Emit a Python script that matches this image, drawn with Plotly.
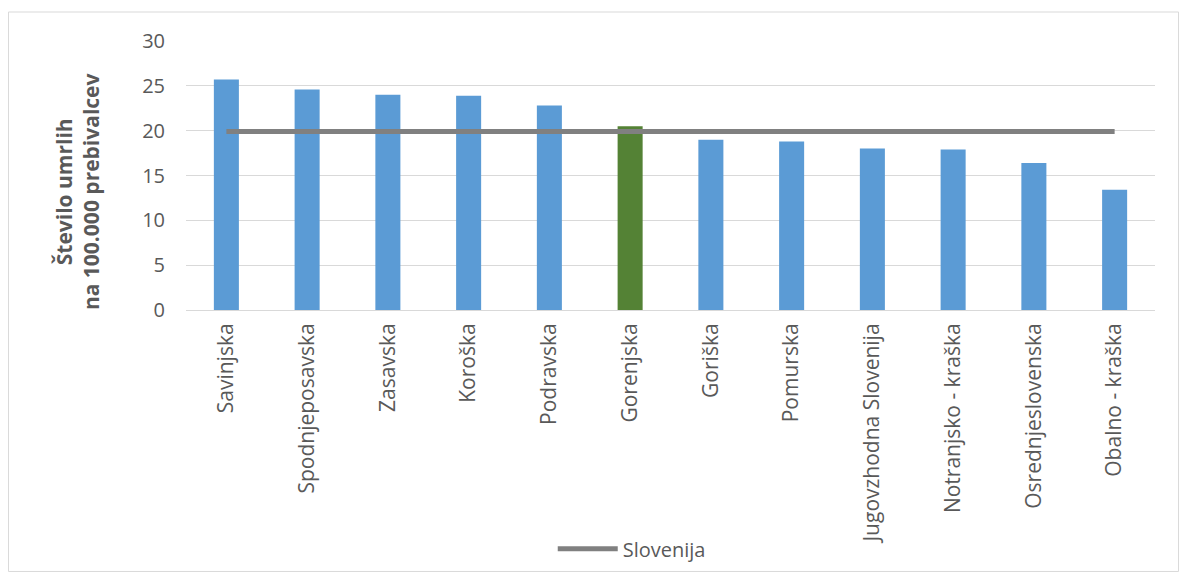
import plotly.graph_objects as go

categories = ["Savinjska", "Spodnjeposavska", "Zasavska", "Koroška", "Podravska",
              "Gorenjska", "Goriška", "Pomurska", "Jugovzhodna Slovenija",
              "Notranjsko - kraška", "Osrednjeslovenska", "Obalno - kraška"]
values = [25.7, 24.6, 24.0, 23.9, 22.8, 20.5, 19.0, 18.8, 18.0, 17.9, 16.4, 13.4]
slovenija = [19.9] * len(categories)
highlight = "Gorenjska"

bar_colors = ["#548235" if c == highlight else "#5B9BD5" for c in categories]
FONT = "Open Sans"
GRAY = "#595959"

fig = go.Figure()
fig.add_trace(go.Bar(x=categories, y=values, marker=dict(color=bar_colors, line=dict(width=0)),
                     showlegend=False))
fig.add_trace(go.Scatter(x=categories, y=slovenija, mode="lines", name="Slovenija",
                         line=dict(color="#808080", width=5)))

fig.update_layout(
    width=1171, height=564,
    margin=dict(l=178, r=24, t=33, b=262, autoexpand=False),
    paper_bgcolor="white", plot_bgcolor="white",
    bargap=0.69,
    font=dict(family=FONT, size=20, color=GRAY),
    showlegend=True,
    legend=dict(orientation="h", x=0.46, xanchor="center", y=-0.888, yanchor="middle",
                font=dict(size=20, color=GRAY), itemwidth=60),
    xaxis=dict(tickangle=-90, showgrid=False, showline=True, linecolor="#d9d9d9",
               linewidth=1, ticks="", tickfont=dict(size=21, color=GRAY), automargin=False,
               ticklabelstandoff=4),
    yaxis=dict(range=[0, 30], dtick=5, showgrid=True, gridcolor="#d9d9d9", gridwidth=1,
               zeroline=False, ticks="", tickfont=dict(size=20, color=GRAY),
               ticklabelstandoff=20, automargin=False),
    annotations=[dict(text="<b>Število umrlih<br>na 100.000 prebivalcev</b>",
                      xref="paper", yref="paper", x=-0.1125, y=0.442, textangle=-90,
                      showarrow=False, font=dict(size=21, color=GRAY),
                      xanchor="center", yanchor="middle")],
    shapes=[dict(type="rect", xref="paper", yref="paper", x0=-0.1832, x1=1.0243,
                 y0=-0.972, y1=1.1078, line=dict(color="#d9d9d9", width=1))],
)

fig.write_html("out.html")
